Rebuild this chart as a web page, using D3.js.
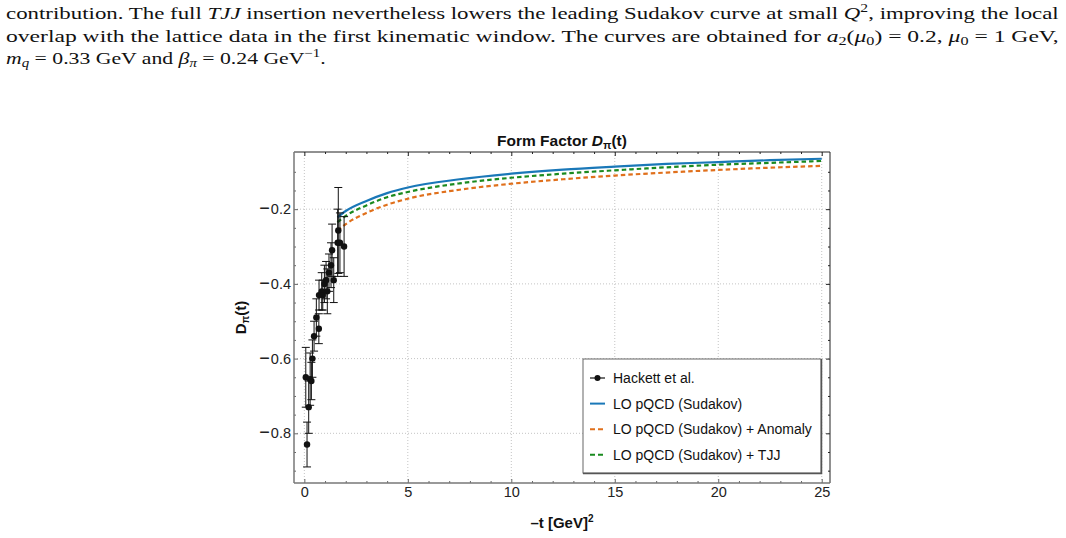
<!DOCTYPE html>
<html>
<head>
<meta charset="utf-8">
<script src="https://cdn.jsdelivr.net/npm/d3@7"></script>
<style>
  body { margin: 0; background: #fff; }
  text { font-family: "Liberation Sans", Arial, sans-serif; }
  .para { font-family: "Liberation Serif", "Times New Roman", serif; font-size: 17.5px; fill: #111; }
</style>
</head>
<body>
<div id="chart"></div>
<script>
// lattice points (Hackett et al.)
var hackettT = [0.13, 0.07, 0.21, 0.28, 0.34, 0.39, 0.47, 0.58, 0.70, 0.71, 0.84, 0.89, 0.97, 1.05, 1.11, 1.19, 1.29, 1.42, 1.34, 1.61, 1.72, 1.64, 1.92];
var hackettD = [-0.83, -0.65, -0.73, -0.655, -0.66, -0.60, -0.54, -0.49, -0.52, -0.43, -0.42, -0.43, -0.40, -0.39, -0.42, -0.37, -0.35, -0.39, -0.31, -0.29, -0.29, -0.257, -0.30];
var hackettErr = [0.06, 0.08, 0.07, 0.07, 0.05, 0.05, 0.04, 0.05, 0.04, 0.04, 0.05, 0.04, 0.05, 0.05, 0.06, 0.05, 0.06, 0.06, 0.07, 0.09, 0.08, 0.115, 0.08];

// curves
var curveT = [1.6, 2, 3, 4, 5, 7.5, 10, 12.5, 15, 17.5, 20, 22.5, 25];
var sudakov = [-0.222, -0.205, -0.178, -0.157, -0.142, -0.120, -0.105, -0.094, -0.086, -0.079, -0.074, -0.069, -0.065];
var sudakovAnomaly = [-0.258, -0.240, -0.210, -0.188, -0.172, -0.148, -0.132, -0.120, -0.110, -0.102, -0.095, -0.089, -0.084];
var sudakovTJJ = [-0.235, -0.218, -0.190, -0.168, -0.154, -0.131, -0.116, -0.105, -0.096, -0.088, -0.081, -0.076, -0.071];

var xTicks = [0, 5, 10, 15, 20, 25];
var yTicks = [-0.8, -0.6, -0.4, -0.2];
var legendLabels = ["Hackett et al.", "LO pQCD (Sudakov)", "LO pQCD (Sudakov) + Anomaly", "LO pQCD (Sudakov) + TJJ"];

var svgWidth = 1066;
var svgHeight = 538;

var frame = { left: 294, right: 830, top: 152, bottom: 483 };

var svg = d3.select("#chart")
  .append("svg")
  .attr("width", svgWidth)
  .attr("height", svgHeight)
  .style("display", "block");

svg.append("rect").attr("width", svgWidth).attr("height", svgHeight).attr("fill", "#fff");

// ---- paragraph above the figure ----
function fitLine(t, x, y, w) {
  var natural = t.node().getComputedTextLength();
  t.attr("transform", "translate(" + x + "," + y + ") scale(" + (w / natural) + ",1)");
}

var l1 = svg.append("text").attr("class", "para");
l1.append("tspan").text("contribution.  The full ");
l1.append("tspan").style("font-style", "italic").text("TJJ");
l1.append("tspan").text(" insertion nevertheless lowers the leading Sudakov curve at small ");
l1.append("tspan").style("font-style", "italic").text("Q");
l1.append("tspan").attr("dy", -7).style("font-size", "12px").text("2");
l1.append("tspan").attr("dy", 7).text(", improving the local");
fitLine(l1, 6, 18.5, 1053);

var l2 = svg.append("text").attr("class", "para");
l2.append("tspan").text("overlap with the lattice data in the first kinematic window.  The curves are obtained for ");
l2.append("tspan").style("font-style", "italic").text("a");
l2.append("tspan").attr("dy", 3).style("font-size", "12px").text("2");
l2.append("tspan").attr("dy", -3).text("(");
l2.append("tspan").style("font-style", "italic").text("μ");
l2.append("tspan").attr("dy", 3).style("font-size", "12px").text("0");
l2.append("tspan").attr("dy", -3).text(")  =  0.2,  ");
l2.append("tspan").style("font-style", "italic").text("μ");
l2.append("tspan").attr("dy", 3).style("font-size", "12px").text("0");
l2.append("tspan").attr("dy", -3).text("  =  1 GeV,");
fitLine(l2, 6, 41.5, 1053);

var l3 = svg.append("text").attr("class", "para");
l3.append("tspan").style("font-style", "italic").text("m");
l3.append("tspan").attr("dy", 3).style("font-size", "12px").style("font-style", "italic").text("q");
l3.append("tspan").attr("dy", -3).text(" = 0.33 GeV and ");
l3.append("tspan").style("font-style", "italic").text("β");
l3.append("tspan").attr("dy", 3).style("font-size", "12px").style("font-style", "italic").text("π");
l3.append("tspan").attr("dy", -3).text(" = 0.24 GeV");
l3.append("tspan").attr("dy", -7).style("font-size", "12px").text("−1");
l3.append("tspan").attr("dy", 7).text(".");
fitLine(l3, 6, 64, 320);

// ---- scales ----
var x = d3.scaleLinear().domain([-0.5, 25.4]).range([frame.left, frame.right]);
var y = d3.scaleLinear().domain([-0.933, -0.047]).range([frame.bottom, frame.top]);

// grid
var grid = svg.append("g").attr("stroke", "#c4c4c4").attr("stroke-width", 1).attr("stroke-dasharray", "1,2");
grid.selectAll("line.gx").data(xTicks).enter().append("line")
  .attr("x1", d => x(d)).attr("x2", d => x(d))
  .attr("y1", frame.top).attr("y2", frame.bottom);
grid.selectAll("line.gy").data(yTicks).enter().append("line")
  .attr("x1", frame.left).attr("x2", frame.right)
  .attr("y1", d => y(d)).attr("y2", d => y(d));

// axes (ticks point inward)
var xMinor = d3.range(0, 26, 1).filter(d => d % 5 !== 0);
var yMinor = d3.range(-0.9, -0.05, 0.05).map(d => +d.toFixed(2)).filter(d => Math.abs(d * 10 - Math.round(d * 10)) > 0.01 || Math.round(d * 10) % 2 !== 0);

function styleAxis(g, col) {
  g.select(".domain").remove();
  g.selectAll(".tick line").attr("stroke", col);
  g.selectAll(".tick text").attr("fill", "#222").style("font-size", "14.5px")
    .style("font-family", "'Liberation Sans', Arial, sans-serif");
}

svg.append("g").attr("transform", "translate(0," + frame.bottom + ")")
  .call(d3.axisBottom(x).tickValues(xTicks).tickSizeInner(-4).tickSizeOuter(0).tickPadding(4))
  .call(g => styleAxis(g, "#666"));
svg.append("g").attr("transform", "translate(0," + frame.bottom + ")")
  .call(d3.axisBottom(x).tickValues(xMinor).tickSizeInner(-2).tickSizeOuter(0).tickFormat(""))
  .call(g => styleAxis(g, "#666"));
svg.append("g").attr("transform", "translate(0," + frame.top + ")")
  .call(d3.axisTop(x).tickValues(xTicks).tickSizeInner(-4).tickSizeOuter(0).tickFormat(""))
  .call(g => styleAxis(g, "#222"));
svg.append("g").attr("transform", "translate(0," + frame.top + ")")
  .call(d3.axisTop(x).tickValues(xMinor).tickSizeInner(-2).tickSizeOuter(0).tickFormat(""))
  .call(g => styleAxis(g, "#222"));

var yAxisG = svg.append("g").attr("transform", "translate(" + frame.left + ",0)")
  .call(d3.axisLeft(y).tickValues(yTicks).tickSizeInner(-4).tickSizeOuter(0).tickPadding(3).tickFormat(""))
  .call(g => styleAxis(g, "#666"));
// wide minus sign like the original
yAxisG.selectAll(".tick text").each(function(d) {
  var t = d3.select(this);
  t.append("tspan").style("font-size", "18px").text("−");
  t.append("tspan").attr("dx", 1).text(Math.abs(d).toFixed(1));
});
svg.append("g").attr("transform", "translate(" + frame.left + ",0)")
  .call(d3.axisLeft(y).tickValues(yMinor).tickSizeInner(-2).tickSizeOuter(0).tickFormat(""))
  .call(g => styleAxis(g, "#666"));
svg.append("g").attr("transform", "translate(" + frame.right + ",0)")
  .call(d3.axisRight(y).tickValues(yTicks).tickSizeInner(-4).tickSizeOuter(0).tickFormat(""))
  .call(g => styleAxis(g, "#222"));
svg.append("g").attr("transform", "translate(" + frame.right + ",0)")
  .call(d3.axisRight(y).tickValues(yMinor).tickSizeInner(-2).tickSizeOuter(0).tickFormat(""))
  .call(g => styleAxis(g, "#222"));

// frame
svg.append("line").attr("x1", frame.left).attr("x2", frame.right).attr("y1", frame.top).attr("y2", frame.top).attr("stroke", "#222");
svg.append("line").attr("x1", frame.right).attr("x2", frame.right).attr("y1", frame.top).attr("y2", frame.bottom).attr("stroke", "#222");
svg.append("line").attr("x1", frame.left).attr("x2", frame.right).attr("y1", frame.bottom).attr("y2", frame.bottom).attr("stroke", "#777").attr("stroke-width", 1.5);
svg.append("line").attr("x1", frame.left).attr("x2", frame.left).attr("y1", frame.top).attr("y2", frame.bottom).attr("stroke", "#777").attr("stroke-width", 1.5);

// ---- curves ----
var line = d3.line().x(d => x(d[0])).y(d => y(d[1])).curve(d3.curveMonotoneX);

var series = [
  { vals: sudakovAnomaly, color: "#e0701c", dash: "4.5,3" },
  { vals: sudakovTJJ, color: "#1a8a1f", dash: "4.5,3" },
  { vals: sudakov, color: "#1a78b8", dash: null }
];

series.forEach(function(s) {
  svg.append("path")
    .datum(curveT.map((t, i) => [t, s.vals[i]]))
    .attr("d", line)
    .attr("fill", "none")
    .attr("stroke", s.color)
    .attr("stroke-width", 2.2)
    .attr("stroke-dasharray", s.dash);
});

// ---- lattice data with error bars ----
var pts = hackettT.map((t, i) => ({ t: t, d: hackettD[i], e: hackettErr[i] }));
var eb = svg.append("g").attr("stroke", "#111").attr("stroke-width", 1);
eb.selectAll("line.bar").data(pts).enter().append("line")
  .attr("x1", d => x(d.t)).attr("x2", d => x(d.t))
  .attr("y1", d => y(d.d - d.e)).attr("y2", d => y(d.d + d.e));
eb.selectAll("line.capTop").data(pts).enter().append("line")
  .attr("x1", d => x(d.t) - 4).attr("x2", d => x(d.t) + 4)
  .attr("y1", d => y(d.d + d.e)).attr("y2", d => y(d.d + d.e));
eb.selectAll("line.capBot").data(pts).enter().append("line")
  .attr("x1", d => x(d.t) - 4).attr("x2", d => x(d.t) + 4)
  .attr("y1", d => y(d.d - d.e)).attr("y2", d => y(d.d - d.e));
svg.append("g").selectAll("circle").data(pts).enter().append("circle")
  .attr("cx", d => x(d.t)).attr("cy", d => y(d.d)).attr("r", 3.2).attr("fill", "#111");

// ---- labels ----
var title = svg.append("text").attr("x", (frame.left + frame.right) / 2).attr("y", 146)
  .attr("text-anchor", "middle").style("font-weight", "bold").style("font-size", "15.5px").attr("fill", "#111");
title.append("tspan").text("Form Factor ");
title.append("tspan").style("font-style", "italic").text("D");
title.append("tspan").attr("dy", 3).style("font-size", "11px").text("π");
title.append("tspan").attr("dy", -3).text("(t)");

var xl = svg.append("text").attr("x", (frame.left + frame.right) / 2).attr("y", 528)
  .attr("text-anchor", "middle").style("font-weight", "bold").style("font-size", "15px").attr("fill", "#111");
xl.append("tspan").text("–t [GeV]");
xl.append("tspan").attr("dy", -6).style("font-size", "10px").text("2");

var yl = svg.append("text").attr("transform", "translate(246," + ((frame.top + frame.bottom) / 2) + ") rotate(-90)")
  .attr("text-anchor", "middle").style("font-weight", "bold").style("font-size", "15px").attr("fill", "#111");
yl.append("tspan").text("D");
yl.append("tspan").attr("dy", 3).style("font-size", "10px").text("π");
yl.append("tspan").attr("dy", -3).text("(t)");

// ---- legend ----
var lg = svg.append("g");
lg.append("rect").attr("x", 583).attr("y", 359).attr("width", 238).attr("height", 114)
  .attr("fill", "#fff").attr("stroke", "#666").attr("stroke-width", 1);
lg.append("path").attr("d", "M583,473.5H821.5V359").attr("fill", "none").attr("stroke", "#555").attr("stroke-width", 1.5);

var legendStyles = [
  { color: "#111", dash: null, dot: true },
  { color: "#1a78b8", dash: null, dot: false },
  { color: "#e0701c", dash: "5,3", dot: false },
  { color: "#1a8a1f", dash: "5,3", dot: false }
];
var rows = lg.selectAll("g.row").data(legendLabels).enter().append("g")
  .attr("transform", (d, i) => "translate(0," + (378 + i * 25.6) + ")");
rows.append("line").attr("x1", 590).attr("x2", 605).attr("y1", 0).attr("y2", 0)
  .attr("stroke", (d, i) => legendStyles[i].color)
  .attr("stroke-width", (d, i) => i === 0 ? 1.2 : 2)
  .attr("stroke-dasharray", (d, i) => legendStyles[i].dash);
rows.filter((d, i) => legendStyles[i].dot).append("circle").attr("cx", 597.5).attr("cy", 0).attr("r", 3).attr("fill", "#111");
rows.append("text").attr("x", 613).attr("y", 0).attr("dy", "0.35em")
  .style("font-size", "14px").attr("fill", "#111").text(d => d);
</script>
</body>
</html>
